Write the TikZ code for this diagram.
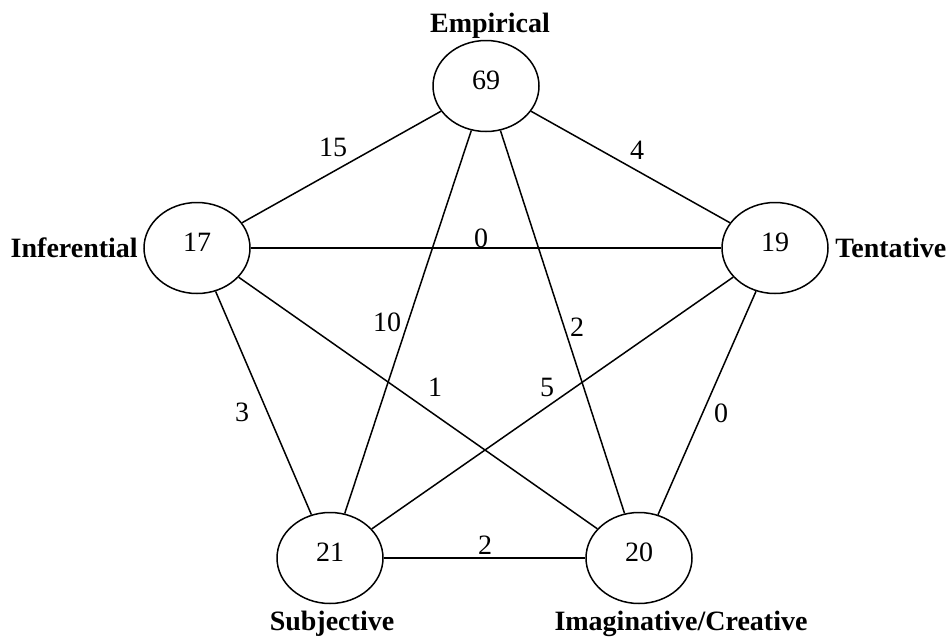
\documentclass[tikz,border=0pt]{standalone}
\usepackage{fontspec}
\setmainfont{Liberation Serif}
\usetikzlibrary{shapes.geometric}

\tikzset{every picture/.style={line width=0.75pt}}
\tikzset{every node/.style={font=\fontsize{14}{16}\selectfont}}
\tikzset{catnode/.style={ellipse,draw,minimum width=53pt,minimum height=45.5pt,inner sep=0pt,text depth=6pt}}
\tikzset{catname/.style={font=\fontsize{14}{16}\selectfont\bfseries,inner sep=0.75pt}}

\begin{document}
\begin{tikzpicture}[x=0.5pt,y=0.5pt,yscale=-1,xscale=1]
    \useasboundingbox (0,0) rectangle (949,638);

    %Shape: Ellipse [Empirical]
    \draw (486,86) node [catnode] (emp) {69};
    %Shape: Ellipse [Inferential]
    \draw (197,248) node [catnode] (inf) {17};
    %Shape: Ellipse [Tentative]
    \draw (775,248) node [catnode] (ten) {19};
    %Shape: Ellipse [Subjective]
    \draw (330,558) node [catnode] (sub) {21};
    %Shape: Ellipse [Imaginative/Creative]
    \draw (639,558) node [catnode] (ima) {20};

    %Straight Lines
    \draw (emp) -- (inf) ;
    \draw (emp) -- (ten) ;
    \draw (emp) -- (sub) ;
    \draw (emp) -- (ima) ;
    \draw (inf) -- (ten) ;
    \draw (inf) -- (sub) ;
    \draw (inf) -- (ima) ;
    \draw (ten) -- (sub) ;
    \draw (ten) -- (ima) ;
    \draw (sub) -- (ima) ;

    % Text Node
    \draw (490,32) node [anchor=base][catname] (empname) {Empirical};
    % Text Node
    \draw (140,248) node [anchor=east][catname] (infname) {Inferential};
    % Text Node
    \draw (833,248) node [anchor=west][catname] (tenname) {Tentative};
    % Text Node
    \draw (332,630) node [anchor=base][catname] (subname) {Subjective};
    % Text Node
    \draw (681,630) node [anchor=base][catname] (imaname) {Imaginative/Creative};

    % Text Node
    \draw (333,147) node [inner sep=0.75pt] (l15) {15};
    % Text Node
    \draw (637,150) node [inner sep=0.75pt] (l4) {4};
    % Text Node
    \draw (481,238) node [inner sep=0.75pt] (l0a) {0};
    % Text Node
    \draw (387,322) node [inner sep=0.75pt] (l10) {10};
    % Text Node
    \draw (577,327) node [inner sep=0.75pt] (l2a) {2};
    % Text Node
    \draw (435,387) node [inner sep=0.75pt] (l1) {1};
    % Text Node
    \draw (547,387) node [inner sep=0.75pt] (l5) {5};
    % Text Node
    \draw (242,412) node [inner sep=0.75pt] (l3) {3};
    % Text Node
    \draw (721,413) node [inner sep=0.75pt] (l0b) {0};
    % Text Node
    \draw (485,545) node [inner sep=0.75pt] (l2b) {2};

\end{tikzpicture}
\end{document}
